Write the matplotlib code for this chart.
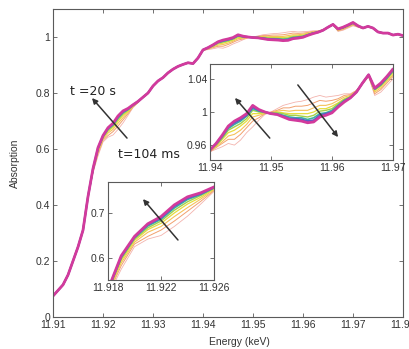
import matplotlib
matplotlib.use("Agg")
import matplotlib.pyplot as plt

# ---------------- data ----------------
energy = [11.910, 11.911, 11.912, 11.913, 11.914, 11.915, 11.916, 11.917, 11.918, 11.919,
          11.920, 11.921, 11.922, 11.923, 11.924, 11.925, 11.926, 11.927, 11.928, 11.929,
          11.930, 11.931, 11.932, 11.933, 11.934, 11.935, 11.936, 11.937, 11.938, 11.939,
          11.940, 11.941, 11.942, 11.943, 11.944, 11.945, 11.946, 11.947, 11.948, 11.949,
          11.950, 11.951, 11.952, 11.953, 11.954, 11.955, 11.956, 11.957, 11.958, 11.959,
          11.960, 11.961, 11.962, 11.963, 11.964, 11.965, 11.966, 11.967, 11.968, 11.969,
          11.970, 11.971, 11.972, 11.973, 11.974, 11.975, 11.976, 11.977, 11.978, 11.979,
          11.980]

# spectrum at t = 20 s (full range)
final_spectrum = [0.075, 0.095, 0.115, 0.150, 0.200, 0.250, 0.310, 0.430, 0.530, 0.605,
                  0.648, 0.676, 0.692, 0.718, 0.736, 0.745, 0.758, 0.770, 0.785, 0.800,
                  0.825, 0.843, 0.855, 0.872, 0.885, 0.895, 0.902, 0.908, 0.905, 0.925,
                  0.954, 0.962, 0.972, 0.983, 0.989, 0.993, 0.998, 1.008, 1.003, 1.000,
                  0.998, 0.997, 0.994, 0.991, 0.990, 0.989, 0.987, 0.988, 0.994, 0.996,
                  0.999, 1.006, 1.012, 1.017, 1.024, 1.035, 1.045, 1.029, 1.035, 1.043,
                  1.052, 1.040, 1.032, 1.038, 1.032, 1.018, 1.014, 1.014, 1.007, 1.010,
                  1.005]

# earlier spectra: values in the edge window (11.918-11.927) and post-edge window (11.940-11.972)
edge_s0 = [0.515, 0.575, 0.625, 0.642, 0.650, 0.670, 0.693, 0.720, 0.748, 0.765]
edge_s1 = [0.519, 0.583, 0.631, 0.648, 0.662, 0.682, 0.704, 0.726, 0.750, 0.766]
edge_s2 = [0.522, 0.589, 0.635, 0.657, 0.670, 0.692, 0.712, 0.731, 0.752, 0.767]
edge_s3 = [0.524, 0.594, 0.639, 0.663, 0.677, 0.700, 0.720, 0.735, 0.754, 0.768]
edge_s4 = [0.526, 0.598, 0.642, 0.667, 0.682, 0.706, 0.725, 0.739, 0.755, 0.769]
edge_s5 = [0.528, 0.601, 0.645, 0.671, 0.686, 0.711, 0.730, 0.741, 0.756, 0.769]
edge_s6 = [0.529, 0.603, 0.646, 0.674, 0.689, 0.715, 0.733, 0.743, 0.757, 0.770]

post_s0 = [0.952, 0.955, 0.958, 0.962, 0.960, 0.966, 0.975, 0.982, 0.990, 0.997, 1.000,
           1.004, 1.008, 1.010, 1.012, 1.013, 1.015, 1.018, 1.020, 1.018, 1.019, 1.020,
           1.022, 1.022, 1.026, 1.034, 1.043, 1.020, 1.024, 1.032, 1.040, 1.035, 1.030]
post_s1 = [0.952, 0.957, 0.962, 0.967, 0.967, 0.973, 0.981, 0.989, 0.993, 0.998, 1.000,
           1.002, 1.005, 1.005, 1.007, 1.007, 1.008, 1.011, 1.014, 1.013, 1.014, 1.016,
           1.020, 1.021, 1.026, 1.034, 1.043, 1.022, 1.027, 1.035, 1.043, 1.036, 1.031]
post_s2 = [0.953, 0.958, 0.964, 0.971, 0.973, 0.978, 0.985, 0.994, 0.996, 0.998, 0.999,
           1.001, 1.002, 1.001, 1.002, 1.002, 1.002, 1.005, 1.008, 1.008, 1.010, 1.014,
           1.018, 1.020, 1.025, 1.034, 1.044, 1.024, 1.029, 1.037, 1.045, 1.037, 1.031]
post_s3 = [0.953, 0.959, 0.967, 0.975, 0.978, 0.983, 0.989, 0.998, 0.998, 0.999, 0.999,
           1.000, 0.999, 0.998, 0.998, 0.998, 0.998, 1.000, 1.004, 1.004, 1.007, 1.011,
           1.016, 1.019, 1.025, 1.035, 1.044, 1.026, 1.031, 1.039, 1.047, 1.038, 1.031]
post_s4 = [0.954, 0.960, 0.968, 0.978, 0.982, 0.986, 0.992, 1.002, 1.000, 0.999, 0.999,
           0.999, 0.998, 0.996, 0.996, 0.995, 0.994, 0.996, 1.001, 1.002, 1.004, 1.010,
           1.015, 1.018, 1.024, 1.035, 1.044, 1.027, 1.032, 1.040, 1.049, 1.039, 1.032]
post_s5 = [0.954, 0.961, 0.970, 0.980, 0.985, 0.989, 0.995, 1.004, 1.001, 1.000, 0.998,
           0.998, 0.996, 0.994, 0.993, 0.993, 0.991, 0.993, 0.998, 0.999, 1.002, 1.008,
           1.014, 1.018, 1.024, 1.035, 1.045, 1.028, 1.033, 1.041, 1.050, 1.039, 1.032]
post_s6 = [0.954, 0.962, 0.971, 0.982, 0.987, 0.991, 0.996, 1.006, 1.002, 1.000, 0.998,
           0.997, 0.995, 0.992, 0.992, 0.991, 0.989, 0.990, 0.996, 0.998, 1.000, 1.007,
           1.013, 1.017, 1.024, 1.035, 1.045, 1.028, 1.034, 1.042, 1.051, 1.040, 1.032]

edge_sets = [edge_s0, edge_s1, edge_s2, edge_s3, edge_s4, edge_s5, edge_s6]
post_sets = [post_s0, post_s1, post_s2, post_s3, post_s4, post_s5, post_s6]

colors = ['#f3b3ad', '#f2a06e', '#f5c25a', '#e6dd3c', '#a4d04c', '#3cb79e', '#5a5fc6', '#d23a9c']
widths = [0.6, 0.7, 0.8, 0.9, 1.0, 1.2, 1.5, 2.0]

# build the full spectra
spectra = []
for edge, post in zip(edge_sets, post_sets):
    s = list(final_spectrum)
    s[8:8 + len(edge)] = edge
    s[30:30 + len(post)] = post
    spectra.append(s)
spectra.append(list(final_spectrum))

# ---------------- figure ----------------
plt.rcParams['font.family'] = ['Liberation Sans', 'DejaVu Sans']
W, H = 409, 349
fig = plt.figure(figsize=(W / 100, H / 100), dpi=100)
fig.patch.set_facecolor('white')

spine_col = '#5a5a5a'
txt_col = '#333333'


def px_axes(x0, y0, x1, y1):
    return fig.add_axes([x0 / W, 1 - y1 / H, (x1 - x0) / W, (y1 - y0) / H])


def style(ax, fs=7.5):
    for sp in ax.spines.values():
        sp.set_color(spine_col)
        sp.set_linewidth(0.8)
    ax.tick_params(direction='in', length=3, width=0.6, colors=spine_col,
                   labelcolor=txt_col, labelsize=fs, top=True, right=True, pad=2)


def draw(ax):
    for s, c, lw in zip(spectra, colors, widths):
        ax.plot(energy, s, color=c, lw=lw, solid_joinstyle='round')


arrow_kw = dict(arrowstyle='-|>', color='#333333', lw=1.1, mutation_scale=8,
                shrinkA=0, shrinkB=0)

# main axes
ax = px_axes(53, 9, 403, 317)
draw(ax)
ax.set_xlim(11.91, 11.98)
ax.set_ylim(0, 1.1)
ax.set_xticks([11.91, 11.92, 11.93, 11.94, 11.95, 11.96, 11.97, 11.98])
ax.set_xticklabels(['11.91', '11.92', '11.93', '11.94', '11.95', '11.96', '11.97', '11.98'])
ax.set_yticks([0, 0.2, 0.4, 0.6, 0.8, 1.0])
ax.set_yticklabels(['0', '0.2', '0.4', '0.6', '0.8', '1'])
style(ax)
ax.annotate('', xy=(11.9178, 0.782), xytext=(11.9248, 0.639), arrowprops=arrow_kw)
ax.text(11.9134, 0.804, 't =20 s', family='DejaVu Sans', fontsize=9, color='#222222',
        va='center', ha='left')
ax.text(11.9230, 0.582, 't=104 ms', family='DejaVu Sans', fontsize=9, color='#222222',
        va='center', ha='left')

fig.text(15 / W, 1 - 163 / H, 'Absorption', rotation=90, ha='center', va='center',
         fontsize=7.5, color=txt_col)
fig.text(239 / W, 1 - 342 / H, 'Energy (keV)', ha='center', va='center',
         fontsize=7.5, color=txt_col)

# inset 1 (post-edge)
ax1 = px_axes(210, 64, 393, 160)
draw(ax1)
ax1.set_xlim(11.94, 11.97)
ax1.set_ylim(0.942, 1.058)
ax1.set_xticks([11.94, 11.95, 11.96, 11.97])
ax1.set_xticklabels(['11.94', '11.95', '11.96', '11.97'])
ax1.set_yticks([0.96, 1.0, 1.04])
ax1.set_yticklabels(['0.96', '1', '1.04'])
style(ax1)
ax1.annotate('', xy=(11.9441, 1.017), xytext=(11.9498, 0.9685), arrowprops=arrow_kw)
ax1.annotate('', xy=(11.9610, 0.9697), xytext=(11.9544, 1.0327), arrowprops=arrow_kw)

# inset 2 (edge)
ax2 = px_axes(108, 182, 214, 280)
draw(ax2)
ax2.set_xlim(11.918, 11.926)
ax2.set_ylim(0.551, 0.769)
ax2.set_xticks([11.918, 11.922, 11.926])
ax2.set_xticklabels(['11.918', '11.922', '11.926'])
ax2.set_yticks([0.6, 0.7])
ax2.set_yticklabels(['0.6', '0.7'])
style(ax2)
ax2.annotate('', xy=(11.92064, 0.731), xytext=(11.92328, 0.640), arrowprops=arrow_kw)

fig.savefig('out.png', dpi=100, facecolor='white')
